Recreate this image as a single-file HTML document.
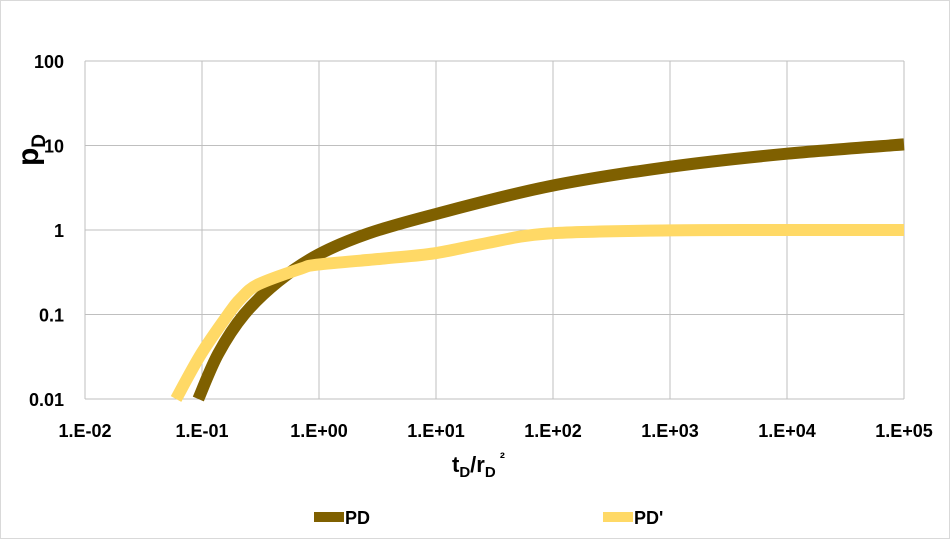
<!DOCTYPE html>
<html><head><meta charset="utf-8"><style>
body{margin:0;background:#fff;font-family:"Liberation Sans",sans-serif}
#wrap{position:relative;width:950px;height:539px;box-sizing:border-box;border:1px solid #d9d9d9;background:#fff}
text{font-family:"Liberation Sans",sans-serif;font-weight:bold;fill:#000}
</style></head><body>
<div id="wrap">
<svg id="chart" width="950" height="539"></svg>
</div>
<script>
const xTicks=[-2,-1,0,1,2,3,4,5];
const xTickLabels=["1.E-02","1.E-01","1.E+00","1.E+01","1.E+02","1.E+03","1.E+04","1.E+05"];
const yTicks=[-2,-1,0,1,2];
const yTickLabels=["0.01","0.1","1","10","100"];
const pdT=[0.093,0.137,0.229,0.448,0.985,2.64,9.7,91,1000,10000,100000];
const pdV=[0.01,0.034,0.1,0.246,0.51,0.91,1.53,3.27,5.6,8.0,10.3];
const pdpT=[0.06,0.098,0.167,0.215,0.302,0.704,0.985,3.6,9.7,25.9,91,1000,10000,100000];
const pdpV=[0.01,0.034,0.1,0.155,0.227,0.35,0.39,0.46,0.53,0.69,0.91,0.99,1.0,1.0];
const X0=84,X1=903,Y0=398,Y1=60;
const xs=v=>X0+(Math.log10(v)+2)/7*(X1-X0);
const ys=v=>Y0-(Math.log10(v)+2)/4*(Y0-Y1);
const NS="http://www.w3.org/2000/svg";
const svg=document.getElementById('chart');
function mk(t,a,p){const e=document.createElementNS(NS,t);for(const k in a)e.setAttribute(k,a[k]);(p||svg).appendChild(e);return e;}
const grid=mk('g',{});


xTicks.forEach((t,i)=>{const x=X0+(t+2)/7*(X1-X0);
 const l=mk('line',{x1:x,x2:x,y1:Y1,y2:Y0,stroke:'#bfbfbf','stroke-width':1},grid);
 
 
 const tx=mk('text',{x:x,y:Y0+38,'text-anchor':'middle','font-size':18});
 tx.textContent=xTickLabels[i];
 
 });
yTicks.forEach((t,i)=>{const y=Y0-(t+2)/4*(Y0-Y1);
 const l=mk('line',{x1:X0,x2:X1,y1:y,y2:y,stroke:'#bfbfbf','stroke-width':1},grid);
 
 
 const tx=mk('text',{x:X0-21,y:y+7,'text-anchor':'end','font-size':18});
 tx.textContent=yTickLabels[i];
 
 });
function pathFrom(T,V){const p=T.map((t,i)=>[xs(t),ys(V[i])]);let d='M'+p[0][0]+','+p[0][1];
 for(let i=0;i<p.length-1;i++){const a=p[Math.max(0,i-1)],b=p[i],c=p[i+1],e=p[Math.min(p.length-1,i+2)];
 d+=' C'+(b[0]+(c[0]-a[0])/6)+','+(b[1]+(c[1]-a[1])/6)+' '+(c[0]-(e[0]-b[0])/6)+','+(c[1]-(e[1]-b[1])/6)+' '+c[0]+','+c[1];}
 return d;}
const s1=mk('path',{d:pathFrom(pdT,pdV),fill:'none',stroke:'#7f6000','stroke-width':12});


const s2=mk('path',{d:pathFrom(pdpT,pdpV),fill:'none',stroke:'#ffd966','stroke-width':12});


svg.insertBefore(s1,s2);
</script>
<svg width="950" height="539" style="position:absolute;left:0;top:0;pointer-events:none">
<text x="28" y="150" font-size="30" transform="rotate(-90 28 150)" text-anchor="middle" dy="10">p<tspan font-size="19" dy="7">D</tspan></text>
<text x="452" y="472" font-size="22">t<tspan font-size="15" dy="5">D</tspan><tspan dy="-5">/r</tspan><tspan font-size="15" dy="5">D</tspan><tspan font-size="15" dy="-14"> ²</tspan></text>
<g>
<line x1="314" y1="517" x2="344" y2="517" stroke="#7f6000" stroke-width="10"/>
<text x="345" y="524" font-size="18">PD</text>
<line x1="603" y1="517" x2="633" y2="517" stroke="#ffd966" stroke-width="10"/>
<text x="634" y="524" font-size="18">PD'</text>
</g>
</svg>
</body></html>
